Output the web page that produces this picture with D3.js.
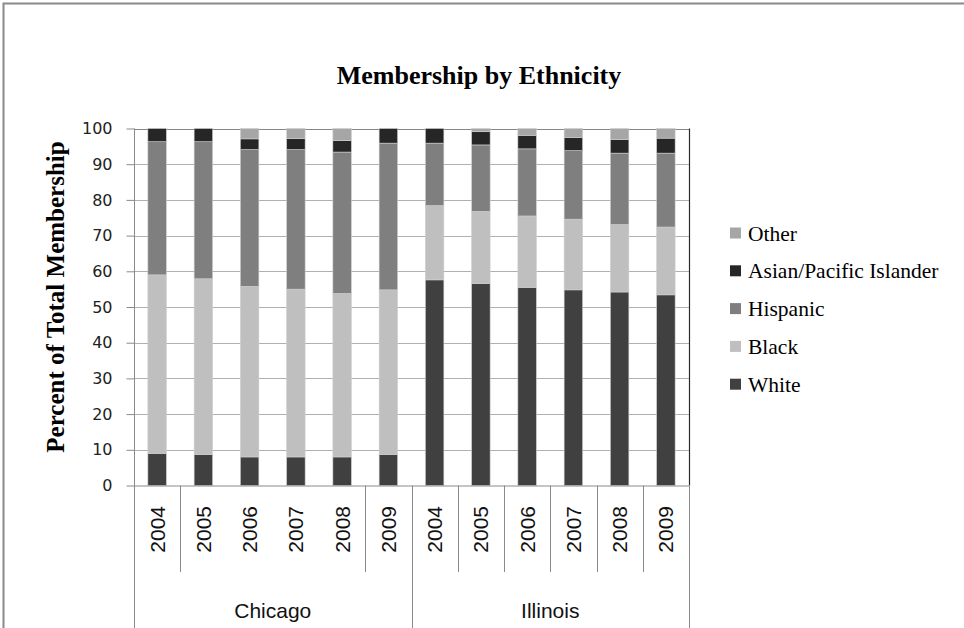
<!DOCTYPE html>
<html><head><meta charset="utf-8">
<script src="https://cdn.jsdelivr.net/npm/d3@7/dist/d3.min.js"></script>
<style>body{margin:0;background:#fff;} svg{display:block;}</style>
</head><body>
<svg id="chart" width="964" height="628"></svg>
<script>
// ---- data ----
const groups = ["Chicago", "Illinois"];
const years = ["2004", "2005", "2006", "2007", "2008", "2009"];
const seriesNames = ["White", "Black", "Hispanic", "Asian/Pacific Islander", "Other"];
const white    = [9.0, 8.7, 8.0, 8.0, 8.0, 8.7,   57.6, 56.6, 55.5, 54.8, 54.2, 53.4];
const black    = [50.0, 49.2, 47.8, 47.0, 45.8, 46.1, 20.8, 20.2, 20.0, 19.8, 18.9, 19.0];
const hispanic = [37.3, 38.4, 38.3, 39.1, 39.6, 41.1, 17.5, 18.6, 18.8, 19.2, 20.0, 20.7];
const asian    = [3.7, 3.7, 3.0, 3.1, 3.2, 4.1,   4.1, 3.7, 3.8, 3.7, 3.8, 4.2];
const other    = [0.0, 0.0, 2.9, 2.8, 3.4, 0.0,   0.0, 0.9, 1.9, 2.5, 3.1, 2.7];
const yTicks = [0, 10, 20, 30, 40, 50, 60, 70, 80, 90, 100];
const colors = ["#404040", "#bfbfbf", "#7f7f7f", "#262626", "#a6a6a6"];

const rows = [];
groups.forEach((g, gi) => years.forEach((y, yi) => {
  const i = gi * years.length + yi;
  rows.push({key: i, group: g, year: y,
    "White": white[i], "Black": black[i], "Hispanic": hispanic[i],
    "Asian/Pacific Islander": asian[i], "Other": other[i]});
}));

const svg = d3.select("#chart");
const L = 134, R = 689, T = 128.5, B = 485.5;

// outer chart border
svg.append("rect").attr("x", 3.5).attr("y", 3.5).attr("width", 1000).attr("height", 700)
  .attr("fill", "none").attr("stroke", "#8a8a8a").attr("stroke-width", 2);

const x = d3.scaleBand().domain(rows.map(d => d.key)).range([L, R]).padding(0);
const bw = x.bandwidth() * 0.4;
const y = d3.scaleLinear().domain([0, 100]).range([B, T]);

// gridlines
svg.append("g").selectAll("line").data(yTicks.filter(t => t > 0)).join("line")
  .attr("x1", L).attr("x2", R)
  .attr("y1", d => Math.round(y(d)) + 0.5).attr("y2", d => Math.round(y(d)) + 0.5)
  .attr("stroke", d => d === 100 ? "#868686" : "#b0b0b0").attr("stroke-width", 1.2);

// stacked bars
const stack = d3.stack().keys(seriesNames)(rows);
svg.append("g").selectAll("g").data(stack).join("g")
  .attr("fill", (d, i) => colors[i])
  .selectAll("rect").data(d => d.filter(s => s[1] - s[0] > 0)).join("rect")
  .attr("x", d => x(d.data.key) + (x.bandwidth() - bw) / 2)
  .attr("width", bw)
  .attr("y", d => y(d[1]))
  .attr("height", d => y(d[0]) - y(d[1]))
  .attr("stroke", "#cfcfcf").attr("stroke-width", 0.6);

// y axis
const yAxis = d3.axisLeft(y).tickValues(yTicks).tickSize(8).tickPadding(14);
const yg = svg.append("g").attr("transform", `translate(${L + 0.5},0)`).call(yAxis);
yg.select(".domain").remove();
yg.selectAll(".tick line").attr("stroke", "#8a8a8a");
yg.selectAll(".tick text").attr("font-family", "'DejaVu Sans', sans-serif")
  .attr("font-size", 16).attr("fill", "#222");
// y axis line extends down through category area
svg.append("line").attr("x1", L + 0.5).attr("x2", L + 0.5).attr("y1", T).attr("y2", 628)
  .attr("stroke", "#8a8a8a");
// x axis line
svg.append("line").attr("x1", L).attr("x2", R).attr("y1", B + 0.5).attr("y2", B + 0.5)
  .attr("stroke", "#8a8a8a");
// right plot border
svg.append("line").attr("x1", R + 0.5).attr("x2", R + 0.5).attr("y1", T).attr("y2", B)
  .attr("stroke", "#2a2a2a").attr("stroke-width", 1.2);
svg.append("line").attr("x1", R + 0.5).attr("x2", R + 0.5).attr("y1", B).attr("y2", 628)
  .attr("stroke", "#8a8a8a");

// category separators (years)
const sepIdx = [1, 5, 7, 8, 9, 10, 11];
svg.append("g").selectAll("line").data(sepIdx).join("line")
  .attr("x1", d => Math.round(x(d)) + 0.5).attr("x2", d => Math.round(x(d)) + 0.5)
  .attr("y1", B).attr("y2", 572)
  .attr("stroke", "#8a8a8a");
// group separator
svg.append("line").attr("x1", Math.round(x(6)) + 0.5).attr("x2", Math.round(x(6)) + 0.5)
  .attr("y1", B).attr("y2", 628).attr("stroke", "#8a8a8a");

// year labels
svg.append("g").selectAll("text").data(rows).join("text")
  .attr("transform", d => `translate(${x(d.key) + x.bandwidth() / 2},506) rotate(-90)`)
  .attr("text-anchor", "end").attr("dy", "0.36em")
  .attr("font-family", "'Liberation Sans', Arial, sans-serif").attr("font-size", 21)
  .attr("fill", "#111").text(d => d.year);

// group labels
svg.append("g").selectAll("text").data(groups).join("text")
  .attr("x", (d, i) => (x(i * 6) + x(i * 6 + 5) + x.bandwidth()) / 2)
  .attr("y", 618).attr("text-anchor", "middle")
  .attr("font-family", "'Liberation Sans', Arial, sans-serif").attr("font-size", 21)
  .attr("fill", "#111").text(d => d);

// title
svg.append("text").attr("x", 479).attr("y", 84).attr("text-anchor", "middle")
  .attr("font-family", "'Liberation Serif', 'Times New Roman', serif").attr("font-weight", "bold")
  .attr("font-size", 26).attr("fill", "#000").text("Membership by Ethnicity");

// y axis title
svg.append("text").attr("transform", `translate(64,${(T + B) / 2 - 10}) rotate(-90)`)
  .attr("text-anchor", "middle")
  .attr("font-family", "'Liberation Serif', 'Times New Roman', serif").attr("font-weight", "bold")
  .attr("font-size", 25).attr("fill", "#000").text("Percent of Total Membership");

// legend
const legendItems = seriesNames.map((n, i) => ({name: n, color: colors[i]})).reverse();
const lg = svg.append("g").selectAll("g").data(legendItems).join("g")
  .attr("transform", (d, i) => `translate(730,${233 + i * 37.8})`);
lg.append("rect").attr("x", 0).attr("y", -5.5).attr("width", 11).attr("height", 11)
  .attr("fill", d => d.color);
lg.append("text").attr("x", 18).attr("y", 0).attr("dy", "0.35em")
  .attr("font-family", "'Liberation Serif', 'Times New Roman', serif").attr("font-size", 21.5)
  .attr("fill", "#000").text(d => d.name);
</script>
</body></html>
